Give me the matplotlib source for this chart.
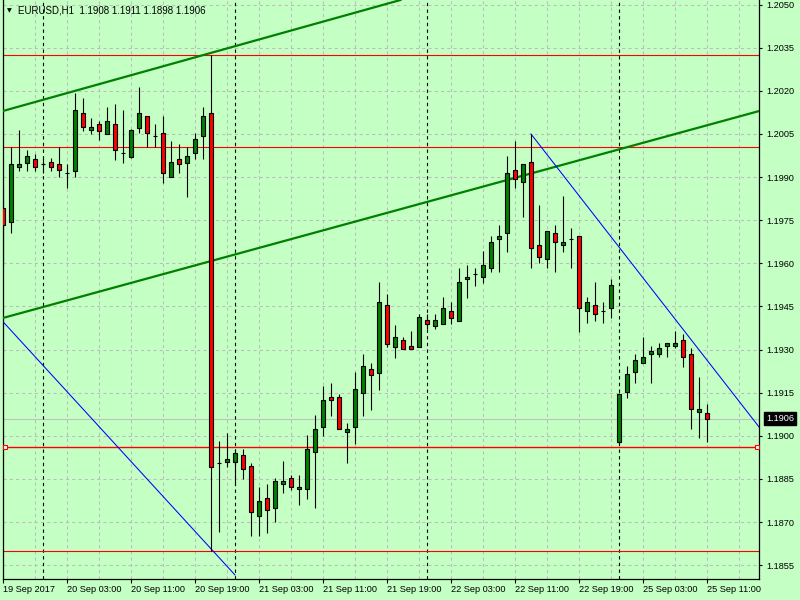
import numpy as np
import matplotlib
matplotlib.use("Agg")
import matplotlib.pyplot as plt
from matplotlib.transforms import blended_transform_factory

# EURUSD H1 bars, 19 Sep 2017 19:00 -> 25 Sep 2017 11:00 (weekend skipped)
opens = [1.19793, 1.19744, 1.19935, 1.19949, 1.19963, 1.19946, 1.19953, 1.19946, 1.19914, 1.19921,
         1.20123, 1.20064, 1.20085, 1.20050, 1.20085, 1.19984, 1.19970, 1.20071, 1.20113, 1.20043,
         1.20053, 1.19900, 1.19963, 1.19949, 1.19984, 1.20043, 1.20123, 1.18906, 1.18909, 1.18909,
         1.18934, 1.18895, 1.18721, 1.18784, 1.18749, 1.18833, 1.18853, 1.18815, 1.18815, 1.18944,
         1.19031, 1.19135, 1.19135, 1.19014, 1.19031, 1.19149, 1.19233, 1.19219, 1.19455, 1.19309,
         1.19334, 1.19313, 1.19309, 1.19403, 1.19382, 1.19389, 1.19434, 1.19400, 1.19546, 1.19563,
         1.19553, 1.19584, 1.19685, 1.19706, 1.19925, 1.19883, 1.19953, 1.19664, 1.19615, 1.19706,
         1.19664, 1.19685, 1.19695, 1.19434, 1.19455, 1.19434, 1.19445, 1.18979, 1.19153, 1.19222,
         1.19254, 1.19285, 1.19285, 1.19313, 1.19313, 1.19334, 1.19285, 1.19083, 1.19080]
highs = [1.19873, 1.20005, 1.20064, 1.19994, 1.19980, 1.19967, 1.19967, 1.20005, 1.19946, 1.20193,
         1.20175, 1.20106, 1.20095, 1.20144, 1.20154, 1.20133, 1.20067, 1.20213, 1.20113, 1.20085,
         1.20113, 1.20026, 1.20015, 1.20005, 1.20053, 1.20144, 1.20325, 1.18982, 1.19010, 1.18954,
         1.18954, 1.18906, 1.18822, 1.18833, 1.18853, 1.18913, 1.18864, 1.18864, 1.19003, 1.19073,
         1.19174, 1.19184, 1.19146, 1.19045, 1.19222, 1.19285, 1.19254, 1.19535, 1.19494, 1.19386,
         1.19344, 1.19365, 1.19424, 1.19424, 1.19424, 1.19483, 1.19466, 1.19584, 1.19594, 1.19584,
         1.19643, 1.19695, 1.19733, 1.19973, 1.20026, 1.19946, 1.20050, 1.19803, 1.19713, 1.19733,
         1.19834, 1.19723, 1.19695, 1.19483, 1.19535, 1.19466, 1.19546, 1.19149, 1.19243, 1.19285,
         1.19344, 1.19313, 1.19323, 1.19323, 1.19365, 1.19354, 1.19306, 1.19205, 1.19110]
lows = [1.19594, 1.19706, 1.19921, 1.19921, 1.19921, 1.19914, 1.19921, 1.19900, 1.19862, 1.19900,
        1.20060, 1.20050, 1.20029, 1.20050, 1.19960, 1.19949, 1.19967, 1.20053, 1.20005, 1.20005,
        1.19880, 1.19900, 1.19914, 1.19831, 1.19963, 1.19963, 1.18600, 1.18666, 1.18892, 1.18829,
        1.18850, 1.18652, 1.18652, 1.18662, 1.18701, 1.18801, 1.18812, 1.18760, 1.18781, 1.18749,
        1.19000, 1.19069, 1.19024, 1.18906, 1.18972, 1.19069, 1.19090, 1.19160, 1.19309, 1.19271,
        1.19302, 1.19302, 1.19309, 1.19372, 1.19372, 1.19389, 1.19389, 1.19400, 1.19480, 1.19521,
        1.19532, 1.19570, 1.19570, 1.19640, 1.19862, 1.19761, 1.19584, 1.19601, 1.19584, 1.19570,
        1.19640, 1.19584, 1.19361, 1.19393, 1.19400, 1.19393, 1.19410, 1.18972, 1.19132, 1.19184,
        1.19254, 1.19184, 1.19274, 1.19274, 1.19306, 1.19240, 1.19024, 1.18993, 1.18980]
closes = [1.19733, 1.19946, 1.19946, 1.19973, 1.19935, 1.19946, 1.19935, 1.19925, 1.19914, 1.20133,
          1.20074, 1.20074, 1.20060, 1.20095, 1.19994, 1.19984, 1.20064, 1.20123, 1.20053, 1.20043,
          1.19914, 1.19953, 1.19946, 1.19973, 1.20033, 1.20113, 1.18892, 1.18906, 1.18920, 1.18940,
          1.18885, 1.18735, 1.18774, 1.18742, 1.18843, 1.18843, 1.18822, 1.18822, 1.18954, 1.19024,
          1.19125, 1.19125, 1.19024, 1.19024, 1.19163, 1.19243, 1.19212, 1.19466, 1.19320, 1.19344,
          1.19302, 1.19302, 1.19414, 1.19389, 1.19403, 1.19445, 1.19410, 1.19535, 1.19553, 1.19563,
          1.19594, 1.19674, 1.19695, 1.19914, 1.19893, 1.19946, 1.19653, 1.19622, 1.19713, 1.19674,
          1.19674, 1.19685, 1.19445, 1.19466, 1.19424, 1.19434, 1.19525, 1.19146, 1.19215, 1.19264,
          1.19274, 1.19295, 1.19306, 1.19323, 1.19323, 1.19274, 1.19094, 1.19094, 1.19060]

title_text = "EURUSD,H1  1.1908 1.1911 1.1898 1.1906"

x_tick_bars = [0, 8, 16, 24, 32, 40, 48, 56, 64, 72, 80, 88]
x_tick_labels = ["19 Sep 2017", "20 Sep 03:00", "20 Sep 11:00", "20 Sep 19:00",
                 "21 Sep 03:00", "21 Sep 11:00", "21 Sep 19:00", "22 Sep 03:00",
                 "22 Sep 11:00", "22 Sep 19:00", "25 Sep 03:00", "25 Sep 11:00"]
day_start_bars = [5, 29, 53, 77]
price_ticks = [1.2050, 1.2035, 1.2020, 1.2005, 1.1990, 1.1975, 1.1960, 1.1945,
               1.1930, 1.1915, 1.1900, 1.1885, 1.1870, 1.1855]

# drawn objects, (bar, price) anchors
channel_upper = [(0, 1.20130), (26, 1.20332)]
channel_lower = [(0, 1.19410), (26, 1.19608)]
trend_down_1 = [(0, 1.19397), (29, 1.18516)]
trend_down_2 = [(66, 1.20050), (94.5, 1.19031)]
h_levels = [1.20325, 1.20005, 1.18600]
selected_level = 1.18961
bid_price = 1.1906

BG = "#c4ffc4"
GRID = "#bcbcbc"
BULL = "#008000"
BEAR = "#ff0000"


def draw_candles(ax):
    """Wicks plus bodies, MT4 style"""
    x = np.arange(len(opens))
    o = np.array(opens)
    c = np.array(closes)
    ax.vlines(x, lows, highs, color="black", lw=0.8, zorder=4)
    colors = [BULL if cc > oo else BEAR for oo, cc in zip(o, c)]
    bottoms = np.minimum(o, c)
    heights = np.abs(c - o)
    ax.bar(x, heights, bottom=bottoms, width=0.5, color=colors,
           edgecolor="black", linewidth=0.8, zorder=5)


def draw_objects(ax):
    """Trend lines, channel and horizontal levels"""
    for pts in (channel_upper, channel_lower):
        ax.axline(pts[0], pts[1], color="#008000", lw=1.6, zorder=3)
    for pts in (trend_down_1, trend_down_2):
        (x0, y0), (x1, y1) = pts
        ax.plot([x0, x1], [y0, y1], color="#0000ff", lw=0.75, zorder=3)
    for lvl in h_levels:
        ax.axhline(lvl, color="#ff0000", lw=0.8, zorder=2)
    ax.axhline(selected_level, color="#ff0000", lw=1.0, zorder=2)
    ax.plot([0.25, 94.25], [selected_level, selected_level], ls="none",
            marker="s", ms=3.5, mfc="white", mec="#ff0000", mew=0.8, zorder=6)
    ax.axhline(bid_price, color="#c0c0c0", lw=0.8, zorder=1.5)


def main():
    plt.rcParams["font.family"] = ["Liberation Sans", "DejaVu Sans"]
    fig = plt.figure(figsize=(8, 6), dpi=100, facecolor=BG)
    ax = fig.add_axes([2.5 / 800, 21 / 600, 756.5 / 800, 579 / 600])
    ax.set_facecolor(BG)
    ax.set_xlim(-0.0625, 94.5)
    ax.set_ylim(1.18502, 1.20516)

    # grid
    for p in price_ticks:
        ax.axhline(p, color=GRID, lw=0.75, ls=(0, (3, 3)), zorder=1)
    for b in range(0, 95, 4):
        ax.axvline(b, color=GRID, lw=0.75, ls=(0, (3, 3)), zorder=1)
    for b in day_start_bars:
        ax.axvline(b, color="black", lw=0.8, ls=(0, (3, 3)), zorder=1.6)

    draw_objects(ax)
    draw_candles(ax)

    # axes
    for s in ("left", "right", "bottom"):
        ax.spines[s].set_color("black")
        ax.spines[s].set_linewidth(0.9)
    ax.spines["top"].set_visible(False)

    ax.set_xticks(x_tick_bars)
    ax.set_xticklabels(x_tick_labels, ha="left")
    ax.yaxis.tick_right()
    ax.set_yticks(price_ticks)
    ax.set_yticklabels(["%.4f" % p for p in price_ticks])
    ax.tick_params(axis="x", length=3, width=0.8, pad=1.5, labelsize=6.6, colors="black")
    ax.tick_params(axis="y", length=2.5, width=0.8, pad=3, labelsize=6.6, colors="black")

    # current price tag
    trans = blended_transform_factory(ax.transAxes, ax.transData)
    ax.text(1.0095, bid_price, "%.4f" % bid_price, transform=trans, ha="left", va="center",
            fontsize=6.6, color="white", clip_on=False, zorder=10,
            bbox=dict(boxstyle="square,pad=0.25", fc="black", ec="black"))

    # header
    fig.text(9 / 800, 1 - 10.5 / 600, "\u25bc", fontsize=4.5, ha="center", va="center",
             family="DejaVu Sans")
    fig.text(18 / 800, 1 - 10.5 / 600, title_text, fontsize=7, ha="left", va="center")

    plt.savefig("out.png", dpi=100, facecolor=BG)
    plt.close()


if __name__ == "__main__":
    main()
